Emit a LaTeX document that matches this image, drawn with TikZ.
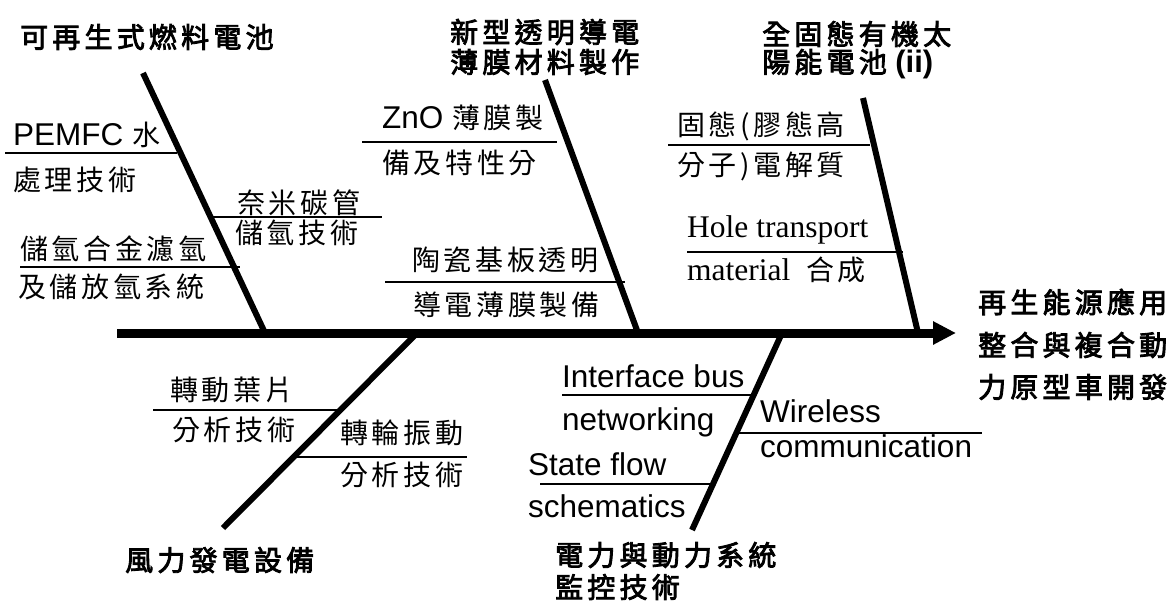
\documentclass[tikz,border=0pt]{standalone}
\usepackage{fontspec}
\setmainfont{Liberation Sans}
\newfontfamily\cjkr[LetterSpace=13]{Noto Sans CJK TC}
\newfontfamily\cjkbf[LetterSpace=15,FakeBold=3]{Noto Sans CJK TC}
\newfontfamily\tmsf{Liberation Serif}
\usetikzlibrary{arrows.meta}
\newcommand{\cjt}[1]{{\cjkr\fontsize{28}{30}\selectfont #1}}
\tikzset{
  spine/.style={line width=9pt,-{Triangle[length=23pt,width=22pt]}},
  bone/.style={line width=6pt},
  twig/.style={line width=1.6pt},
  lbl/.style={inner sep=0pt,anchor=west,font=\cjkr\fontsize{28}{30}\selectfont},
  ttl/.style={inner sep=0pt,anchor=west,font=\cjkbf\fontsize{28}{30}\selectfont},
  lat/.style={inner sep=0pt,anchor=base west,font=\fontsize{31.5}{34}\selectfont},
  ser/.style={inner sep=0pt,anchor=base west,font=\tmsf\fontsize{31.5}{34}\selectfont}
}
\begin{document}
\begin{tikzpicture}[x=1pt,y=-1pt]
\useasboundingbox (0,0) rectangle (1170,602);
% spine
\coordinate (tail) at (117,333);
\coordinate (head) at (956,333);
\draw[spine] (tail) -- (head);
% bones
\coordinate (b1t) at (143,73);  \coordinate (b1b) at (265,333);
\coordinate (b2t) at (545,80);  \coordinate (b2b) at (638,333);
\coordinate (b3t) at (863,98);  \coordinate (b3b) at (918,333);
\coordinate (b4t) at (417,333); \coordinate (b4b) at (223,528);
\coordinate (b5t) at (782,333); \coordinate (b5b) at (692,530);
\draw[bone] (b1t) -- (b1b);
\draw[bone] (b2t) -- (b2b);
\draw[bone] (b3t) -- (b3b);
\draw[bone] (b4t) -- (b4b);
\draw[bone] (b5t) -- (b5b);
% twigs
\coordinate (t1a) at (5,153);   \coordinate (t1b) at (177,153);
\coordinate (t2a) at (211,217); \coordinate (t2b) at (382,217);
\coordinate (t3a) at (20,267);  \coordinate (t3b) at (240,267);
\coordinate (t4a) at (362,142); \coordinate (t4b) at (557,142);
\coordinate (t5a) at (385,282); \coordinate (t5b) at (625,282);
\coordinate (t6a) at (668,145); \coordinate (t6b) at (870,145);
\coordinate (t7a) at (687,252); \coordinate (t7b) at (903,252);
\coordinate (t8a) at (153,410); \coordinate (t8b) at (340,410);
\coordinate (t9a) at (296,457); \coordinate (t9b) at (467,457);
\coordinate (t10a) at (562,395); \coordinate (t10b) at (752,395);
\coordinate (t11a) at (737,433); \coordinate (t11b) at (982,433);
\coordinate (t12a) at (540,484); \coordinate (t12b) at (712,484);
\foreach \i in {1,...,12} \draw[twig] (t\i a) -- (t\i b);
% titles
\node[ttl] (h1) at (20,37) {可再生式燃料電池};
\node[ttl] (h2a) at (450,32) {新型透明導電};
\node[ttl] (h2b) at (450,62) {薄膜材料製作};
\node[ttl] (h3a) at (762,34) {全固態有機太};
\node[ttl] (h3b) at (762,64) {陽能電池{\rmfamily\bfseries\fontsize{31}{33}\selectfont\ (ii)}};
\node[ttl] (h4) at (125,560) {風力發電設備};
\node[ttl] (h5a) at (555,555) {電力與動力系統};
\node[ttl] (h5b) at (555,587) {監控技術};
\node[ttl] (goal1) at (978,302) {再生能源應用};
\node[ttl] (goal2) at (978,345) {整合與複合動};
\node[ttl] (goal3) at (978,387) {力原型車開發};
% labels bone 1
\node[lat] (l1a) at (13,145) {PEMFC \cjt{水}};
\node[lbl] (l1b) at (13,180) {處理技術};
\node[lbl] (l2a) at (237,203) {奈米碳管};
\node[lbl] (l2b) at (235,233) {儲氫技術};
\node[lbl] (l3a) at (20,249) {儲氫合金濾氫};
\node[lbl] (l3b) at (18,287) {及儲放氫系統};
% labels bone 2
\node[lat] (l4a) at (382,128) {ZnO \cjt{薄膜製}};
\node[lbl] (l4b) at (382,163) {備及特性分};
\node[lbl] (l5a) at (412,260) {陶瓷基板透明};
\node[lbl] (l5b) at (413,305) {導電薄膜製備};
% labels bone 3
\node[lbl] (l6a) at (677,126) {固態(膠態高};
\node[lbl] (l6b) at (677,166) {分子)電解質};
\node[ser] (l7a) at (687,237) {Hole transport};
\node[ser] (l7b) at (687,280) {material \ \cjt{合成}};
% labels bone 4
\node[lbl] (l8a) at (170,390) {轉動葉片};
\node[lbl] (l8b) at (172,430) {分析技術};
\node[lbl] (l9a) at (340,433) {轉輪振動};
\node[lbl] (l9b) at (340,475) {分析技術};
% labels bone 5
\node[lat] (l10a) at (562,387) {Interface bus};
\node[lat] (l10b) at (562,430) {networking};
\node[lat] (l11a) at (760,422) {Wireless};
\node[lat] (l11b) at (760,457) {communication};
\node[lat] (l12a) at (528,475) {State flow};
\node[lat] (l12b) at (528,517) {schematics};
\end{tikzpicture}
\end{document}
